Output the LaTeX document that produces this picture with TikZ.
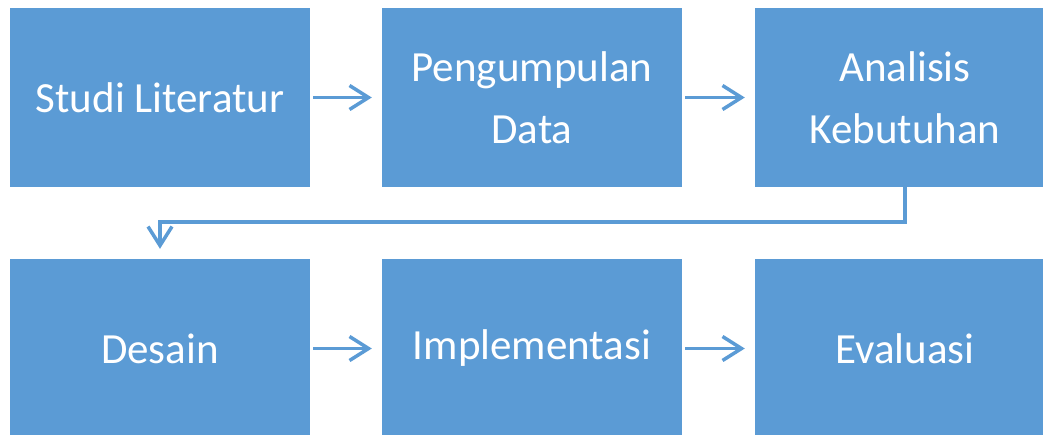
\documentclass[tikz,border=0pt]{standalone}
\usepackage{fontspec}
\setmainfont{Carlito}
\usetikzlibrary{arrows.meta}
\definecolor{boxblue}{HTML}{5B9BD5}
\begin{document}
\begin{tikzpicture}[x=1pt,y=-1pt,
  stagebox/.style={fill=boxblue, draw=none, minimum width=300pt, minimum height=179pt,
    inner sep=0pt, text=white, align=center, font=\fontsize{43}{62}\selectfont},
  flow/.style={draw=boxblue, line width=3.5pt,
    -{Straight Barb[length=19pt,width=24pt,line width=3.5pt]}}]
\useasboundingbox (0,0) rectangle (1043,434);
\node[stagebox] (b1) at (160,97.5) {Studi Literatur};
\node[stagebox] (b2) at (532,97.5) {Pengumpulan\\Data};
\node[stagebox] (b3) at (905,97.5) {Analisis\\Kebutuhan};
\node[stagebox] (b4) at (160,348.5) {Desain};
\node[stagebox] (b5) at (532,348.5) {Implementasi};
\node[stagebox] (b6) at (905,348.5) {Evaluasi};
\draw[flow, shorten <=3pt, shorten >=10pt] (b1) -- (b2);
\draw[flow, shorten <=3pt, shorten >=10pt] (b2) -- (b3);
\draw[flow, shorten <=3pt, shorten >=10pt] (b4) -- (b5);
\draw[flow, shorten <=3pt, shorten >=10pt] (b5) -- (b6);
\draw[flow, shorten >=10pt] (b3.south) -- ++(0,35) -| (b4.north);
\end{tikzpicture}
\end{document}
